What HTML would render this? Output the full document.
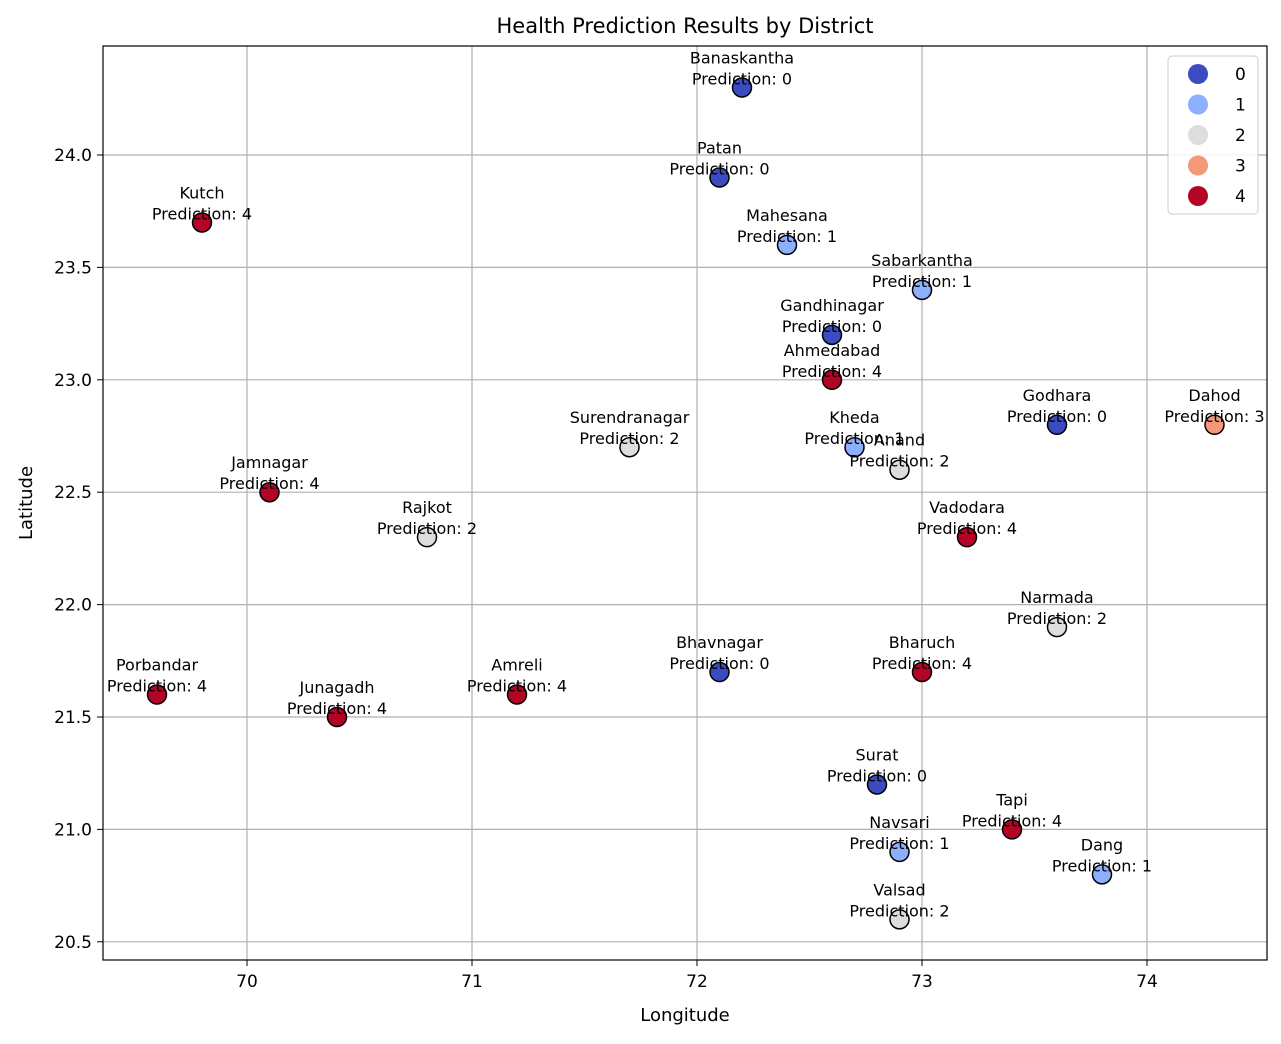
<!DOCTYPE html>
<html><head><meta charset="utf-8"><style>
body{margin:0;background:#fff;font-family:"Liberation Sans","DejaVu Sans",sans-serif}
svg text{font-family:"DejaVu Sans","Liberation Sans",sans-serif}
</style></head><body>
<svg id="chart" width="1281" height="1039" xmlns="http://www.w3.org/2000/svg">
<rect width="1281" height="1039" fill="#fff"/>
<text x="685" y="33" font-size="21" text-anchor="middle">Health Prediction Results by District</text>
<g id="grid"></g>
<g id="points"></g>
<rect x="103" y="46" width="1164" height="914" fill="none" stroke="#000" stroke-width="1.2"/>
<g id="ticks"></g>
<text x="685" y="1021" font-size="18" text-anchor="middle">Longitude</text>
<text transform="translate(32,503) rotate(-90)" font-size="18" text-anchor="middle">Latitude</text>
<g id="legend"></g>
</svg>
<script>
const districts=["Banaskantha","Patan","Kutch","Mahesana","Sabarkantha","Gandhinagar","Ahmedabad","Godhara","Dahod","Surendranagar","Kheda","Anand","Jamnagar","Rajkot","Vadodara","Narmada","Bhavnagar","Bharuch","Porbandar","Amreli","Junagadh","Surat","Tapi","Navsari","Dang","Valsad"];
const longitudes=[72.2,72.1,69.8,72.4,73.0,72.6,72.6,73.6,74.3,71.7,72.7,72.9,70.1,70.8,73.2,73.6,72.1,73.0,69.6,71.2,70.4,72.8,73.4,72.9,73.8,72.9];
const latitudes=[24.3,23.9,23.7,23.6,23.4,23.2,23.0,22.8,22.8,22.7,22.7,22.6,22.5,22.3,22.3,21.9,21.7,21.7,21.6,21.6,21.5,21.2,21.0,20.9,20.8,20.6];
const predictions=[0,0,4,1,1,0,4,0,3,2,1,2,4,2,4,2,0,4,4,4,4,0,4,1,1,2];
const xTicks=[70,71,72,73,74];
const yTicks=[20.5,21.0,21.5,22.0,22.5,23.0,23.5,24.0];
const classes=[0,1,2,3,4];
const colors=["#3b4cc0","#8db0fe","#dddddd","#f4987a","#b40426"];
const NS="http://www.w3.org/2000/svg";
const X=v=>247+(v-70)*225;
const Y=v=>155+(24-v)*224.8;
function mk(tag,attrs,parent,txt){const e=document.createElementNS(NS,tag);for(const k in attrs)e.setAttribute(k,attrs[k]);if(txt!==undefined)e.textContent=txt;parent.appendChild(e);return e;}
const grid=document.getElementById('grid'),ticks=document.getElementById('ticks'),pts=document.getElementById('points'),leg=document.getElementById('legend');
xTicks.forEach(t=>{
 const l=mk('line',{x1:X(t),x2:X(t),y1:46,y2:960,stroke:'#b0b0b0','stroke-width':1.2},grid);
 
 
 mk('line',{x1:X(t),x2:X(t),y1:960,y2:966,stroke:'#000'},ticks);
 const tx=mk('text',{x:X(t),y:987,'font-size':17,'text-anchor':'middle'},ticks,String(t));
 
 
});
yTicks.forEach(t=>{
 const l=mk('line',{x1:103,x2:1267,y1:Y(t),y2:Y(t),stroke:'#b0b0b0','stroke-width':1.2},grid);
 
 
 mk('line',{x1:97,x2:103,y1:Y(t),y2:Y(t),stroke:'#000'},ticks);
 const tx=mk('text',{x:92,y:Y(t)+6,'font-size':17,'text-anchor':'end'},ticks,t.toFixed(1));
 
 
});
districts.forEach((d,i)=>{
 const cx=X(longitudes[i]),cy=Y(latitudes[i]);
 const c=mk('circle',{cx:cx,cy:cy,r:9.5,fill:colors[predictions[i]],stroke:'#000','stroke-width':1.5},pts);
 
 
 const t1=mk('text',{x:cx,y:cy-24,'font-size':16,'text-anchor':'middle'},pts,d);
 
 
 const t2=mk('text',{x:cx,y:cy-3,'font-size':16,'text-anchor':'middle'},pts,'Prediction: '+predictions[i]);
 
 
});
const box=mk('rect',{x:1168,y:56,width:90,height:158,rx:4,fill:'#fff','fill-opacity':0.85,stroke:'#ccc'},leg);


classes.forEach((c,i)=>{
 const y=74+i*30.5;
 const m=mk('circle',{cx:1198,cy:y,r:10,fill:colors[c]},leg);
 
 
 const t=mk('text',{x:1235,y:y+6,'font-size':17},leg,String(c));
 
 
});
</script>
</body></html>
